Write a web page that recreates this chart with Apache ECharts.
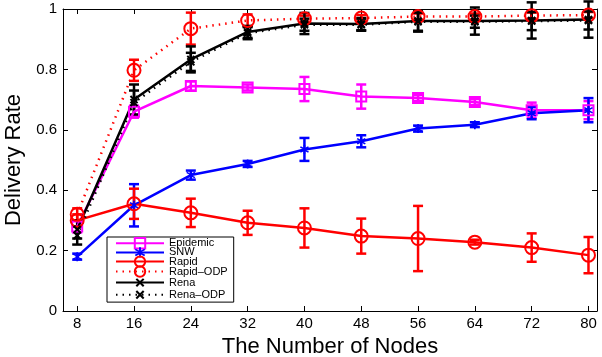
<!DOCTYPE html>
<html>
<head>
<meta charset="utf-8">
<script src="https://cdn.jsdelivr.net/npm/echarts@6/dist/echarts.min.js"></script>
<style>
  html, body { margin: 0; padding: 0; background: #fff; }
  #chart { width: 602px; height: 357px; }
</style>
</head>
<body>
<div id="chart"></div>
<script>
// Number of nodes in the network (x values)
const nodes = [8, 16, 24, 32, 40, 48, 56, 64, 72, 80];
const yTicks = [0, 0.2, 0.4, 0.6, 0.8, 1];

// Mean delivery rate per protocol, with half-width of the error bar
const epidemic    = [0.28, 0.66, 0.745, 0.74, 0.735, 0.71, 0.705, 0.692, 0.665, 0.665];
const epidemicErr = [0.02, 0.02, 0.015, 0.01, 0.04, 0.04, 0.01, 0.01, 0.025, 0.03];

const snw    = [0.18, 0.35, 0.45, 0.487, 0.535, 0.562, 0.604, 0.617, 0.655, 0.665];
const snwErr = [0.01, 0.07, 0.015, 0.01, 0.038, 0.02, 0.01, 0.008, 0.02, 0.04];

const rapid    = [0.30, 0.355, 0.325, 0.292, 0.275, 0.248, 0.24, 0.228, 0.21, 0.185];
const rapidErr = [0.02, 0.05, 0.047, 0.04, 0.065, 0.058, 0.108, 0.008, 0.047, 0.06];

const rapidOdp    = [0.32, 0.797, 0.935, 0.962, 0.968, 0.97, 0.975, 0.975, 0.978, 0.98];
const rapidOdpErr = [0.02, 0.035, 0.053, 0.02, 0.01, 0.01, 0.01, 0.01, 0.01, 0.01];

const rena    = [0.27, 0.70, 0.833, 0.924, 0.952, 0.95, 0.96, 0.96, 0.962, 0.965];
const renaErr = [0.03, 0.05, 0.043, 0.02, 0.035, 0.02, 0.035, 0.045, 0.06, 0.06];

const renaOdp    = [0.25, 0.69, 0.825, 0.92, 0.948, 0.948, 0.958, 0.958, 0.96, 0.962];
const renaOdpErr = [0.03, 0.04, 0.03, 0.02, 0.02, 0.02, 0.03, 0.02, 0.03, 0.03];

const seriesNames = ['Epidemic', 'SNW', 'Rapid', 'Rapid\u2013ODP', 'Rena', 'Rena\u2013ODP'];

const FONT = "'Liberation Sans', Arial, Helvetica, sans-serif";
const PLUS = 'path://M4,0H6V4H10V6H6V10H4V6H0V4H4Z';
const ASTERISK = 'path://M4.2,0H5.8V3.1L8.5,1.4L9.3,2.8L6.6,4.4V5.6L9.3,7.2L8.5,8.6L5.8,6.9V10H4.2V6.9L1.5,8.6L0.7,7.2L3.4,5.6V4.4L0.7,2.8L1.5,1.4L4.2,3.1Z';

function lineSeries(name, values, color, dotted, marker) {
  return {
    type: 'line',
    name: name,
    data: nodes.map((n, i) => [n, values[i]]),
    lineStyle: { color: color, width: 2.5, type: dotted ? [1.5, 5] : 'solid' },
    symbol: marker.symbol,
    symbolSize: marker.size,
    symbolRotate: marker.rotate || 0,
    itemStyle: marker.hollow
      ? { color: 'rgba(0,0,0,0)', borderColor: color, borderWidth: 2 }
      : { color: color },
    emphasis: { disabled: true },
    z: 3
  };
}

function errorSeries(values, errs, color) {
  return {
    type: 'custom',
    name: '',
    data: nodes.map((n, i) => [n, values[i] - errs[i], values[i] + errs[i]]),
    encode: { x: 0, y: [1, 2] },
    z: 3,
    renderItem: function (params, api) {
      const x = api.value(0);
      const lo = api.coord([x, api.value(1)]);
      const hi = api.coord([x, api.value(2)]);
      const w = 5;
      const style = { stroke: color, lineWidth: 2.5, fill: null };
      return {
        type: 'group',
        children: [
          { type: 'line', shape: { x1: lo[0], y1: lo[1], x2: hi[0], y2: hi[1] }, style: style },
          { type: 'line', shape: { x1: lo[0] - w, y1: lo[1], x2: lo[0] + w, y2: lo[1] }, style: style },
          { type: 'line', shape: { x1: hi[0] - w, y1: hi[1], x2: hi[0] + w, y2: hi[1] }, style: style }
        ]
      };
    }
  };
}

const MAGENTA = '#ff00ff', BLUE = '#0000ff', RED = '#ff0000', BLACK = '#000000';

const series = [
  errorSeries(epidemic, epidemicErr, MAGENTA),
  lineSeries(seriesNames[0], epidemic, MAGENTA, false, { symbol: 'rect', size: 10, hollow: true }),
  errorSeries(snw, snwErr, BLUE),
  lineSeries(seriesNames[1], snw, BLUE, false, { symbol: ASTERISK, size: 9 }),
  errorSeries(rapid, rapidErr, RED),
  lineSeries(seriesNames[2], rapid, RED, false, { symbol: 'circle', size: 13, hollow: true }),
  errorSeries(rapidOdp, rapidOdpErr, RED),
  lineSeries(seriesNames[3], rapidOdp, RED, true, { symbol: 'circle', size: 13, hollow: true }),
  errorSeries(rena, renaErr, BLACK),
  lineSeries(seriesNames[4], rena, BLACK, false, { symbol: PLUS, size: 10, rotate: 45 }),
  errorSeries(renaOdp, renaOdpErr, BLACK),
  lineSeries(seriesNames[5], renaOdp, BLACK, true, { symbol: PLUS, size: 10, rotate: 45 })
];

const axisLine = { show: true, onZero: false, lineStyle: { color: '#000', width: 1 } };

const option = {
  animation: false,
  backgroundColor: '#fff',
  textStyle: { fontFamily: FONT },
  grid: { left: 63, right: 5, top: 9, bottom: 46, containLabel: false, outerBoundsMode: 'none' },
  xAxis: [
    {
      type: 'value', position: 'bottom', min: 6, max: 81.2,
      axisLine: axisLine,
      axisTick: { show: true, inside: true, length: 5, customValues: nodes, lineStyle: { color: '#000' } },
      axisLabel: { customValues: nodes, fontSize: 15, color: '#000', margin: 5, fontFamily: FONT },
      splitLine: { show: false },
      name: 'The Number of Nodes', nameLocation: 'middle', nameGap: 20,
      nameTextStyle: { fontSize: 22, color: '#000', fontFamily: FONT }
    },
    {
      type: 'value', position: 'top', min: 6, max: 81.2,
      axisLine: axisLine,
      axisTick: { show: true, inside: true, length: 5, customValues: nodes, lineStyle: { color: '#000' } },
      axisLabel: { show: false },
      splitLine: { show: false }
    }
  ],
  yAxis: [
    {
      type: 'value', position: 'left', min: 0, max: 1, interval: 0.2,
      axisLine: axisLine,
      axisTick: { show: true, inside: true, length: 5, customValues: yTicks, lineStyle: { color: '#000' } },
      axisLabel: { customValues: yTicks, fontSize: 15, color: '#000', margin: 6, fontFamily: FONT },
      splitLine: { show: false },
      name: 'Delivery Rate', nameLocation: 'middle', nameGap: 33,
      nameTextStyle: { fontSize: 22, color: '#000', fontFamily: FONT }
    },
    {
      type: 'value', position: 'right', min: 0, max: 1, interval: 0.2,
      axisLine: axisLine,
      axisTick: { show: true, inside: true, length: 5, customValues: yTicks, lineStyle: { color: '#000' } },
      axisLabel: { show: false },
      splitLine: { show: false }
    }
  ],
  legend: {
    orient: 'vertical',
    left: 107, top: 237,
    data: seriesNames,
    itemWidth: 48, itemHeight: 13, itemGap: -2.5,
    padding: [0, 6, 0, 8],
    borderColor: '#000', borderWidth: 1, backgroundColor: '#fff',
    selectedMode: false,
    textStyle: { fontSize: 11, color: '#000', lineHeight: 10, fontFamily: FONT }
  },
  series: series
};

const chart = echarts.init(document.getElementById('chart'), null, { renderer: 'canvas' });
chart.setOption(option);
</script>
</body>
</html>
